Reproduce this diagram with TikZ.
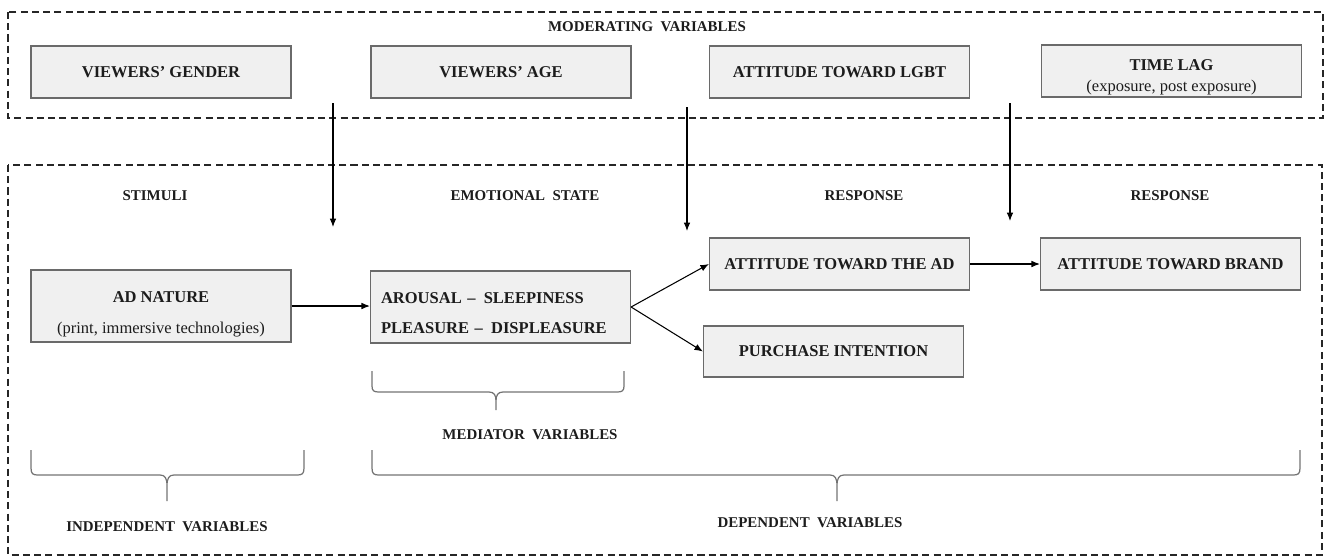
\documentclass[tikz,border=0pt]{standalone}
\usepackage{fontspec}
\setmainfont{Liberation Serif}
\usetikzlibrary{arrows.meta}
\definecolor{boxfill}{HTML}{F0F0F0}
\definecolor{boxline}{HTML}{6A6A6A}
\definecolor{inktext}{HTML}{1C1C1C}
\begin{document}
\begin{tikzpicture}[x=0.02cm, y=-0.02cm, >={Latex[length=4.8pt,width=3.8pt]},
        varbox/.style={draw=boxline, fill=boxfill, line width=0.7pt, minimum width=5.2cm, minimum height=1.04cm, inner sep=0pt, text=inktext, font=\fontsize{9.4}{11}\selectfont\bfseries, align=center},
        tallbox/.style={varbox, minimum height=1.44cm},
        header/.style={text=inktext, font=\fontsize{8.5}{10}\selectfont\bfseries, inner sep=1pt},
        group/.style={draw=black!85, dash pattern=on 4pt off 2.4pt, line width=0.8pt},
        flow/.style={->, line width=0.6pt},
        brace/.style={draw=black!55, line width=0.7pt}]
        \useasboundingbox (0,0) rectangle (1325,558);

        % dashed groups
        \draw[group] (8,12) rectangle (1323,118);
        \draw[group] (8,165) rectangle (1322,555);

        % moderating variables
        \node[header] (moderating) at (647,27) {MODERATING\enspace VARIABLES};
        \node[varbox] (gender) at (161,72) {VIEWERS’ GENDER};
        \node[varbox] (age) at (501,72) {VIEWERS’ AGE};
        \node[varbox] (lgbt) at (839.5,72) {ATTITUDE TOWARD LGBT};
        \node[varbox] (timelag) at (1171.5,71) {\rule{0pt}{13pt}TIME LAG\\[1pt]{\mdseries (exposure, post exposure)}};

        % column heads
        \node[header] (stimuli) at (155,196) {STIMULI};
        \node[header] (emotional) at (525,196) {EMOTIONAL\enspace STATE};
        \node[header] (response1) at (864,196) {RESPONSE};
        \node[header] (response2) at (1170,196) {RESPONSE};

        % model
        \node[tallbox] (adnature) at (161,306) {\rule{0pt}{15.5pt}AD NATURE\\[7pt]{\mdseries (print, immersive technologies)}};
        \node[tallbox, align=left, text width=4.78cm] (emotion) at (500.5,307) {\rule{0pt}{13pt}AROUSAL –\enspace SLEEPINESS\\[6pt]PLEASURE –\enspace DISPLEASURE};
        \node[varbox] (attad) at (839.5,264) {ATTITUDE TOWARD THE AD};
        \node[varbox] (brand) at (1170.5,264) {ATTITUDE TOWARD BRAND};
        \node[varbox, minimum height=1.02cm] (purchase) at (833.5,351.5) {PURCHASE INTENTION};

        \draw[flow] (adnature.east) -- (adnature.east -| emotion.west);
        \draw[flow] (emotion.east) -- (attad.west);
        \draw[flow] (emotion.east) -- (purchase.west);
        \draw[flow] (attad) -- (brand);

        % moderating effects
        \coordinate (mod1) at (333,103);
        \coordinate (mod2) at (687,107);
        \coordinate (mod3) at (1010,103);
        \draw[flow] (mod1) -- (333,227);
        \draw[flow] (mod2) -- (687,231);
        \draw[flow] (mod3) -- (1010,221);

        % braces
        \draw[brace] (372,371) -- (372,386) .. controls (372,391) and (374,392) .. (379,392) -- (489,392) .. controls (494,392) and (496,395) .. (496,401) -- (496,410)
            (496,401) .. controls (496,395) and (498,392) .. (503,392) -- (617,392) .. controls (622,392) and (624,391) .. (624,386) -- (624,371);
        \draw[brace] (31,450) -- (31,468) .. controls (31,474) and (33,475) .. (38,475) -- (160,475) .. controls (165,475) and (167,478) .. (167,486) -- (167,501)
            (167,486) .. controls (167,478) and (169,475) .. (174,475) -- (297,475) .. controls (302,475) and (304,474) .. (304,468) -- (304,450);
        \draw[brace] (372,450) -- (372,468) .. controls (372,474) and (374,475) .. (379,475) -- (830,475) .. controls (835,475) and (837,478) .. (837,486) -- (837,501)
            (837,486) .. controls (837,478) and (839,475) .. (844,475) -- (1293,475) .. controls (1298,475) and (1300,474) .. (1300,468) -- (1300,450);

        \node[header] (mediator) at (530,435) {MEDIATOR\enspace VARIABLES};
        \node[header] (independent) at (167,527) {INDEPENDENT\enspace VARIABLES};
        \node[header] (dependent) at (810,523) {DEPENDENT\enspace VARIABLES};
    \end{tikzpicture}
\end{document}
